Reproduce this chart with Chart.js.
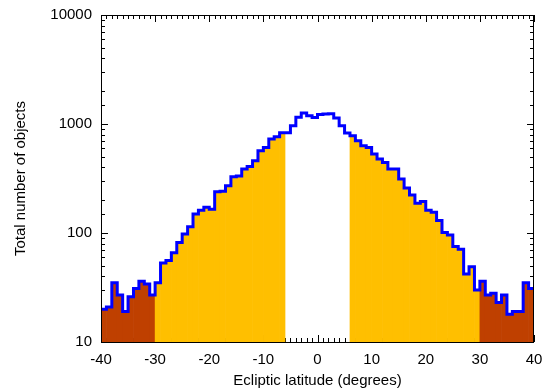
<!DOCTYPE html>
<html><head><meta charset="utf-8">
<script src="https://cdn.jsdelivr.net/npm/chart.js@4/dist/chart.umd.min.js"></script>
<style>html,body{margin:0;padding:0;background:#fff}#wrap{width:546px;height:390px;position:relative}</style>
</head><body><div id="wrap"><canvas id="c"></canvas></div>
<script>
// Histogram bins (left edge of each 1-degree bin, degrees)
const binStart = [-40,-39,-38,-37,-36,-35,-34,-33,-32,-31,-30,-29,-28,-27,-26,-25,-24,-23,-22,-21,
  -20,-19,-18,-17,-16,-15,-14,-13,-12,-11,-10,-9,-8,-7,-6,-5,-4,-3,-2,-1,
  0,1,2,3,4,5,6,7,8,9,10,11,12,13,14,15,16,17,18,19,
  20,21,22,23,24,25,26,27,28,29,30,31,32,33,34,35,36,37,38,39];
// Total number of objects per bin
const counts = [20,21,35,27,19,26,31,36,34,27,35,53,56,66,82,98,114,149,162,172,
  165,239,241,272,329,334,387,408,460,569,610,728,764,832,832,964,1151,1262,1191,1150,
  1220,1236,1240,1135,964,826,781,703,632,610,530,477,444,387,387,313,259,223,187,195,
  162,155,130,101,96,75,71,42,49,30,36,27,28,23,27,18,19,19,35,31];
const binWidth = 1;
const xTickValues = [-40,-30,-20,-10,0,10,20,30,40];
const yTickLabels = [10,100,1000,10000];
const innerCut = 6;   // |lat| below this: not filled
const outerCut = 30;  // |lat| above this: dark fill

const barData = binStart.map((s, i) => ({x: s + binWidth / 2, y: counts[i]}));
const stepData = binStart.map((s, i) => ({x: s, y: counts[i]}));
stepData.push({x: binStart[binStart.length - 1] + binWidth, y: counts[counts.length - 1]});

function zoneColor(ctx) {
  const r = ctx.raw;
  if (!r) return 'rgba(0,0,0,0)';
  const a = Math.abs(r.x);
  if (a < innerCut) return 'rgba(0,0,0,0)';
  if (a > outerCut) return '#bf4000';
  return '#ffbf00';
}

const isPow10 = v => Math.abs(Math.log10(v) - Math.round(Math.log10(v))) < 1e-9;

const frameTicks = {
  id: 'frameTicks',
  beforeDatasetsDraw(chart) {
    const {ctx, chartArea: a, scales: {x, y}} = chart;
    ctx.save();
    ctx.strokeStyle = '#000';
    ctx.lineWidth = 1;
    ctx.beginPath();
    for (let v = x.min; v <= x.max; v += 1) {
      const px = Math.round(x.getPixelForValue(v)) + 0.5;
      const len = xTickValues.includes(v) ? 7 : 4;
      ctx.moveTo(px, a.bottom); ctx.lineTo(px, a.bottom - len);
      ctx.moveTo(px, a.top); ctx.lineTo(px, a.top + len);
    }
    y.ticks.forEach(t => {
      const py = Math.round(y.getPixelForValue(t.value)) + 0.5;
      const len = isPow10(t.value) ? 7 : 4;
      ctx.moveTo(a.left, py); ctx.lineTo(a.left + len, py);
      ctx.moveTo(a.right, py); ctx.lineTo(a.right - len, py);
    });
    ctx.stroke();
    ctx.restore();
  },
  afterDatasetsDraw(chart) {
    const {ctx, chartArea: a} = chart;
    ctx.save();
    ctx.strokeStyle = '#000';
    ctx.lineWidth = 1;
    ctx.strokeRect(a.left + 0.5, a.top + 0.5, a.right - a.left - 1, a.bottom - a.top);
    ctx.restore();
  }
};

const font = {family: '"Liberation Sans", Arial, Helvetica, sans-serif', size: 15};

new Chart(document.getElementById('c'), {
  type: 'line',
  data: {
    datasets: [
      {
        type: 'line', data: stepData, stepped: 'before', borderColor: '#0000ff', borderWidth: 3,
        pointRadius: 0, fill: false, order: 0, borderJoinStyle: 'miter'
      },
      {
        type: 'bar', data: barData, backgroundColor: zoneColor, borderWidth: 0,
        barPercentage: 1, categoryPercentage: 1, order: 1
      }
    ]
  },
  options: {
    responsive: true,
    maintainAspectRatio: false,
    animation: false,
    layout: {padding: {top: 15, right: 12, left: 0, bottom: 0}},
    plugins: {legend: {display: false}, tooltip: {enabled: false}},
    scales: {
      x: {
        type: 'linear', min: -40, max: 40, offset: false,
        grid: {display: false, drawTicks: false},
        border: {display: false},
        ticks: {stepSize: 10, color: '#000', font, padding: 9, maxRotation: 0,
          callback: v => String(v)},
        title: {display: true, text: 'Ecliptic latitude (degrees)', color: '#000', font, padding: {top: 0, bottom: 0}},
        afterFit: s => { s.height = 48; s.paddingLeft = 0; s.paddingRight = 0; }
      },
      y: {
        type: 'logarithmic', min: 10, max: 10000,
        grid: {display: false, drawTicks: false},
        border: {display: false},
        ticks: {color: '#000', font, padding: 9, autoSkip: false,
          callback: v => (yTickLabels.includes(Math.round(v)) && isPow10(v)) ? String(Math.round(v)) : ''},
        title: {display: true, text: 'Total number of objects', color: '#000', font, padding: {top: 12, bottom: 0}},
        afterFit: s => { s.width = 101; s.paddingTop = 0; s.paddingBottom = 0; }
      }
    }
  },
  plugins: [frameTicks]
});
</script>
</body></html>
